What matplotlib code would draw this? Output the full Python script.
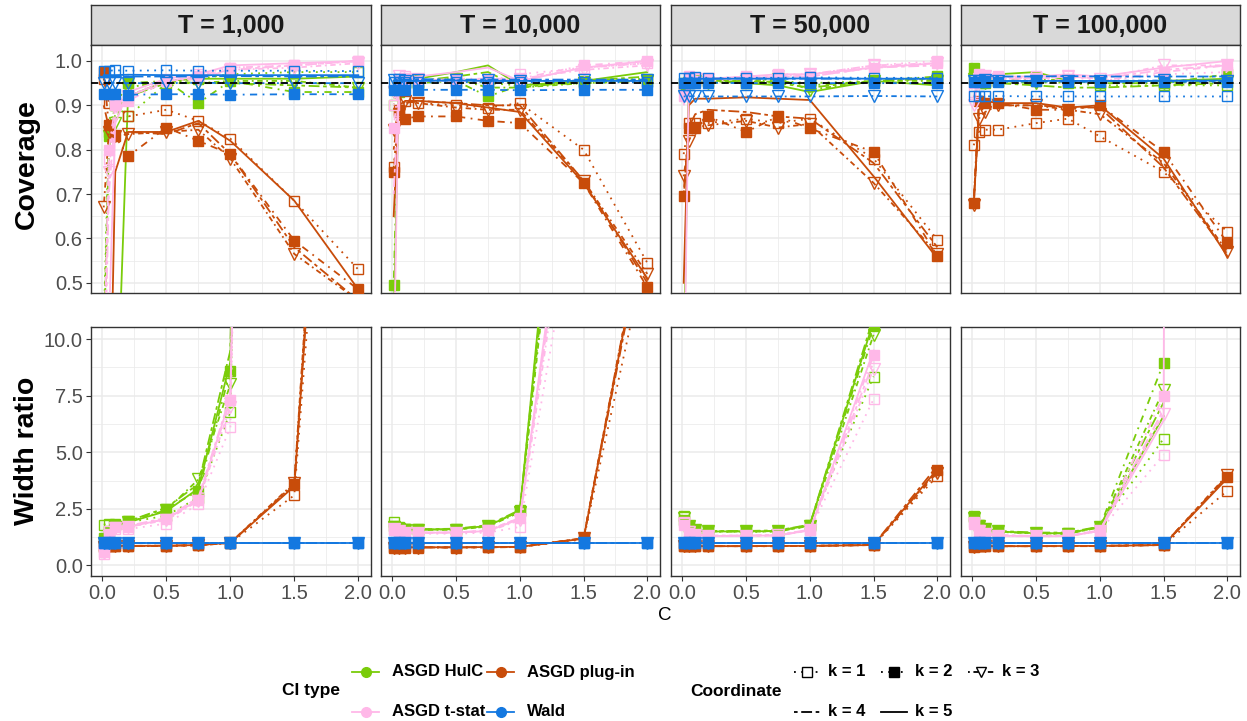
import numpy as np
import matplotlib
matplotlib.use('Agg')
import matplotlib.pyplot as plt

# ── Data ──────────────────────────────────────────────────────────────────────
C_VALUES = [0.01, 0.05, 0.1, 0.2, 0.5, 0.75, 1.0, 1.5, 2.0]
T_LABELS = ['T = 1,000', 'T = 10,000', 'T = 50,000', 'T = 100,000']
CI_TYPES = ['ASGD HulC', 'ASGD plug-in', 'ASGD t-stat', 'Wald']
COORDS   = ['k = 1', 'k = 2', 'k = 3', 'k = 4', 'k = 5']
nan = np.nan

# coverage, rows = k 1..5, cols = C_VALUES
cov_hulc_1k = [[0.40, 0.84, 0.90, 0.875, 0.95, 0.96, 0.97, 0.975, 0.975],
               [0.30, 0.83, 0.90, 0.95, 0.955, 0.905, 0.955, 0.93, 0.93],
               [0.35, 0.83, 0.86, 0.94, 0.955, 0.95, 0.955, 0.955, 0.94],
               [0.35, 0.80, 0.88, 0.92, 0.95, 0.95, 0.95, 0.945, 0.94],
               [0.05, 0.05, 0.10, 0.92, 0.955, 0.96, 0.96, 0.96, 0.965]]
cov_plug_1k = [[0.96, 0.905, 0.905, 0.875, 0.89, 0.865, 0.825, 0.685, 0.53],
               [0.975, 0.855, 0.83, 0.785, 0.85, 0.82, 0.79, 0.595, 0.485],
               [0.67, 0.84, 0.83, 0.835, 0.84, 0.845, 0.78, 0.565, 0.46],
               [0.90, 0.85, 0.83, 0.84, 0.835, 0.86, 0.79, 0.58, 0.46],
               [0.05, 0.05, 0.75, 0.84, 0.84, 0.865, 0.82, 0.685, 0.485]]
cov_tstat_1k = [[0.30, 0.78, 0.91, 0.92, 0.96, 0.97, 0.985, 0.99, 1.0],
                [0.30, 0.80, 0.90, 0.91, 0.955, 0.965, 0.985, 0.99, 1.0],
                [0.25, 0.75, 0.90, 0.92, 0.955, 0.96, 0.98, 0.985, 0.995],
                [0.20, 0.70, 0.88, 0.92, 0.955, 0.965, 0.98, 0.99, 1.0],
                [0.10, 0.40, 0.86, 0.93, 0.96, 0.97, 0.99, 0.995, 1.0]]
cov_wald_1k = [[0.978, 0.978, 0.979, 0.978, 0.979, 0.978, 0.978, 0.978, 0.977],
               [0.925, 0.925, 0.925, 0.924, 0.925, 0.925, 0.924, 0.925, 0.925],
               [0.950, 0.950, 0.951, 0.950, 0.950, 0.951, 0.950, 0.950, 0.950],
               [0.965, 0.965, 0.964, 0.965, 0.965, 0.965, 0.966, 0.965, 0.965],
               [0.968, 0.968, 0.968, 0.969, 0.968, 0.968, 0.968, 0.968, 0.968]]

cov_hulc_10k = [[0.90, 0.94, 0.95, 0.95, 0.96, 0.95, 0.945, 0.955, 0.96],
                [0.495, 0.93, 0.95, 0.95, 0.955, 0.92, 0.945, 0.95, 0.955],
                [0.93, 0.94, 0.955, 0.955, 0.96, 0.94, 0.94, 0.95, 0.955],
                [0.92, 0.935, 0.95, 0.955, 0.965, 0.975, 0.94, 0.955, 0.965],
                [0.40, 0.94, 0.955, 0.96, 0.975, 0.99, 0.945, 0.955, 0.975]]
cov_plug_10k = [[0.76, 0.885, 0.91, 0.905, 0.90, 0.895, 0.905, 0.80, 0.545],
                [0.75, 0.89, 0.87, 0.875, 0.875, 0.865, 0.86, 0.725, 0.49],
                [0.845, 0.88, 0.91, 0.905, 0.895, 0.89, 0.89, 0.73, 0.52],
                [0.80, 0.89, 0.905, 0.91, 0.905, 0.90, 0.90, 0.73, 0.50],
                [0.65, 0.90, 0.91, 0.91, 0.905, 0.895, 0.885, 0.725, 0.51]]
cov_tstat_10k = [[0.90, 0.96, 0.965, 0.96, 0.955, 0.955, 0.97, 0.985, 0.995],
                 [0.85, 0.955, 0.96, 0.955, 0.96, 0.96, 0.96, 0.99, 1.0],
                 [0.93, 0.965, 0.96, 0.96, 0.955, 0.955, 0.96, 0.98, 0.99],
                 [0.70, 0.95, 0.955, 0.955, 0.955, 0.96, 0.955, 0.985, 0.995],
                 [0.30, 0.95, 0.96, 0.965, 0.975, 0.985, 0.955, 0.985, 1.0]]
cov_wald_10k = [[0.952, 0.952, 0.953, 0.952, 0.952, 0.953, 0.952, 0.952, 0.952],
                [0.935, 0.935, 0.934, 0.935, 0.935, 0.935, 0.934, 0.935, 0.935],
                [0.956, 0.956, 0.955, 0.956, 0.956, 0.956, 0.955, 0.956, 0.956],
                [0.958, 0.958, 0.958, 0.959, 0.958, 0.958, 0.958, 0.958, 0.958],
                [0.955, 0.955, 0.955, 0.955, 0.956, 0.955, 0.955, 0.955, 0.955]]

cov_hulc_50k = [[0.95, 0.95, 0.955, 0.955, 0.955, 0.955, 0.95, 0.955, 0.96],
                [0.94, 0.955, 0.96, 0.955, 0.95, 0.955, 0.945, 0.955, 0.965],
                [0.93, 0.95, 0.955, 0.95, 0.955, 0.96, 0.935, 0.955, 0.955],
                [0.94, 0.95, 0.955, 0.955, 0.955, 0.95, 0.94, 0.955, 0.96],
                [0.30, 0.96, 0.965, 0.96, 0.95, 0.945, 0.93, 0.955, 0.945]]
cov_plug_50k = [[0.79, 0.86, 0.86, 0.86, 0.87, 0.86, 0.87, 0.78, 0.597],
                [0.696, 0.848, 0.85, 0.875, 0.84, 0.875, 0.848, 0.795, 0.56],
                [0.74, 0.82, 0.85, 0.855, 0.865, 0.85, 0.858, 0.725, 0.565],
                [0.70, 0.85, 0.88, 0.89, 0.885, 0.875, 0.87, 0.77, 0.58],
                [0.50, 0.90, 0.915, 0.915, 0.918, 0.915, 0.912, 0.74, 0.555]]
cov_tstat_50k = [[0.94, 0.96, 0.96, 0.955, 0.96, 0.97, 0.97, 0.99, 1.0],
                 [0.92, 0.965, 0.955, 0.96, 0.965, 0.965, 0.965, 0.985, 0.995],
                 [0.93, 0.96, 0.96, 0.96, 0.96, 0.965, 0.97, 0.99, 0.995],
                 [0.90, 0.955, 0.96, 0.96, 0.96, 0.965, 0.965, 0.985, 0.99],
                 [0.20, 0.96, 0.965, 0.96, 0.965, 0.97, 0.97, 0.985, 0.995]]
cov_wald_50k = [[0.962, 0.962, 0.963, 0.962, 0.962, 0.962, 0.963, 0.962, 0.962],
                [0.950, 0.950, 0.950, 0.951, 0.950, 0.950, 0.950, 0.950, 0.950],
                [0.920, 0.920, 0.921, 0.920, 0.920, 0.920, 0.920, 0.921, 0.920],
                [0.960, 0.960, 0.960, 0.960, 0.961, 0.960, 0.960, 0.960, 0.960],
                [0.960, 0.960, 0.960, 0.960, 0.960, 0.960, 0.961, 0.960, 0.960]]

cov_hulc_100k = [[0.96, 0.95, 0.95, 0.955, 0.955, 0.95, 0.945, 0.945, 0.945],
                 [0.985, 0.955, 0.955, 0.955, 0.96, 0.955, 0.95, 0.95, 0.97],
                 [0.96, 0.955, 0.95, 0.955, 0.95, 0.955, 0.95, 0.95, 0.955],
                 [0.95, 0.94, 0.945, 0.95, 0.945, 0.94, 0.94, 0.945, 0.95],
                 [0.95, 0.965, 0.96, 0.97, 0.975, 0.955, 0.955, 0.955, 0.96]]
cov_plug_100k = [[0.81, 0.84, 0.845, 0.845, 0.86, 0.87, 0.83, 0.75, 0.615],
                 [0.68, 0.91, 0.905, 0.905, 0.89, 0.89, 0.90, 0.795, 0.59],
                 [0.675, 0.87, 0.885, 0.90, 0.90, 0.89, 0.88, 0.77, 0.57],
                 [0.68, 0.88, 0.90, 0.90, 0.90, 0.895, 0.895, 0.76, 0.565],
                 [0.67, 0.89, 0.91, 0.905, 0.905, 0.895, 0.90, 0.78, 0.56]]
cov_tstat_100k = [[0.93, 0.955, 0.96, 0.96, 0.965, 0.965, 0.955, 0.97, 0.975],
                  [0.95, 0.97, 0.965, 0.965, 0.96, 0.955, 0.955, 0.975, 0.99],
                  [0.90, 0.96, 0.965, 0.96, 0.96, 0.965, 0.96, 0.99, 0.99],
                  [0.92, 0.96, 0.965, 0.96, 0.96, 0.965, 0.96, 0.98, 0.99],
                  [0.90, 0.965, 0.97, 0.965, 0.965, 0.97, 0.965, 0.985, 1.0]]
cov_wald_100k = [[0.920, 0.920, 0.920, 0.921, 0.920, 0.920, 0.920, 0.920, 0.920],
                 [0.953, 0.953, 0.953, 0.953, 0.954, 0.953, 0.953, 0.953, 0.953],
                 [0.955, 0.955, 0.956, 0.955, 0.955, 0.955, 0.955, 0.956, 0.955],
                 [0.965, 0.965, 0.965, 0.965, 0.965, 0.966, 0.965, 0.965, 0.965],
                 [0.955, 0.955, 0.955, 0.955, 0.955, 0.955, 0.955, 0.955, 0.956]]

# width ratio, rows = k 1..5, cols = C_VALUES
wid_hulc_1k = [[1.80, 1.85, 1.80, 1.90, 2.20, 3.00, 6.80, 150, 400],
               [1.20, 1.50, 1.85, 1.95, 2.50, 3.30, 8.60, 160, 420],
               [1.00, 1.30, 1.70, 1.90, 2.45, 3.80, 8.00, 150, 400],
               [0.90, 1.60, 1.85, 1.95, 2.55, 3.60, 9.50, 170, 450],
               [0.80, 1.40, 1.80, 1.90, 2.40, 3.40, 9.00, 160, 430]]
wid_plug_1k = [[0.85, 0.85, 0.86, 0.86, 0.87, 0.90, 1.00, 3.10, 40],
               [0.82, 0.84, 0.85, 0.85, 0.86, 0.88, 1.00, 3.60, 46],
               [0.83, 0.84, 0.85, 0.85, 0.86, 0.89, 1.00, 3.65, 47],
               [0.83, 0.85, 0.85, 0.86, 0.87, 0.89, 1.00, 3.55, 45],
               [0.84, 0.85, 0.86, 0.86, 0.87, 0.90, 1.00, 3.50, 44]]
wid_tstat_1k = [[0.50, 1.50, 1.60, 1.60, 1.85, 2.70, 6.10, 140, 380],
                [0.60, 1.40, 1.70, 1.70, 2.05, 2.90, 7.30, 150, 400],
                [0.55, 1.30, 1.65, 1.70, 2.00, 2.85, 7.00, 145, 390],
                [0.60, 1.50, 1.70, 1.75, 2.10, 3.00, 7.50, 150, 400],
                [0.50, 1.40, 1.65, 1.70, 2.05, 2.90, 7.40, 150, 400]]
wid_wald_1k = [[1.0, 1.0, 1.0, 1.0, 1.0, 1.0, 1.0, 1.0, 1.0],
               [1.0, 1.0, 1.0, 1.0, 1.0, 1.0, 1.0, 1.0, 1.0],
               [1.0, 1.0, 1.0, 1.0, 1.0, 1.0, 1.0, 1.0, 1.0],
               [1.0, 1.0, 1.0, 1.0, 1.0, 1.0, 1.0, 1.0, 1.0],
               [1.0, 1.0, 1.0, 1.0, 1.0, 1.0, 1.0, 1.0, 1.0]]

wid_hulc_10k = [[1.90, 1.70, 1.62, 1.60, 1.58, 1.72, 2.45, 28, 90],
                [1.75, 1.65, 1.60, 1.58, 1.60, 1.75, 2.40, 29, 95],
                [1.70, 1.62, 1.58, 1.56, 1.58, 1.72, 2.35, 28, 90],
                [1.80, 1.68, 1.62, 1.60, 1.62, 1.78, 2.45, 30, 95],
                [1.72, 1.65, 1.60, 1.58, 1.60, 1.75, 2.40, 31, 100]]
wid_plug_10k = [[0.80, 0.80, 0.80, 0.80, 0.80, 0.81, 0.82, 1.15, 14],
                [0.78, 0.78, 0.79, 0.79, 0.79, 0.80, 0.81, 1.20, 16],
                [0.78, 0.78, 0.79, 0.79, 0.79, 0.80, 0.81, 1.20, 16],
                [0.79, 0.79, 0.79, 0.80, 0.80, 0.80, 0.82, 1.20, 15.5],
                [0.79, 0.79, 0.80, 0.80, 0.80, 0.81, 0.82, 1.18, 15.8]]
wid_tstat_10k = [[1.55, 1.45, 1.40, 1.40, 1.40, 1.45, 1.70, 18, 60],
                 [1.60, 1.50, 1.45, 1.45, 1.45, 1.55, 2.10, 22, 70],
                 [1.60, 1.50, 1.45, 1.42, 1.45, 1.50, 2.00, 21, 68],
                 [1.62, 1.52, 1.47, 1.45, 1.46, 1.55, 2.10, 22, 70],
                 [1.60, 1.50, 1.45, 1.44, 1.45, 1.52, 2.05, 23, 72]]
wid_wald_10k = [[1.0, 1.0, 1.0, 1.0, 1.0, 1.0, 1.0, 1.0, 1.0],
                [1.0, 1.0, 1.0, 1.0, 1.0, 1.0, 1.0, 1.0, 1.0],
                [1.0, 1.0, 1.0, 1.0, 1.0, 1.0, 1.0, 1.0, 1.0],
                [1.0, 1.0, 1.0, 1.0, 1.0, 1.0, 1.0, 1.0, 1.0],
                [1.0, 1.0, 1.0, 1.0, 1.0, 1.0, 1.0, 1.0, 1.0]]

wid_hulc_50k = [[2.20, 1.75, 1.55, 1.50, 1.48, 1.50, 1.75, 8.35, nan],
                [2.00, 1.70, 1.55, 1.50, 1.50, 1.52, 1.80, 10.6, nan],
                [2.10, 1.72, 1.55, 1.50, 1.50, 1.50, 1.75, 10.2, nan],
                [2.15, 1.75, 1.58, 1.52, 1.52, 1.55, 1.80, 11.0, nan],
                [2.05, 1.70, 1.55, 1.50, 1.50, 1.52, 1.78, 10.8, nan]]
wid_plug_50k = [[0.85, 0.85, 0.85, 0.85, 0.85, 0.85, 0.86, 0.90, 3.95],
                [0.84, 0.84, 0.84, 0.85, 0.85, 0.85, 0.86, 0.90, 4.20],
                [0.84, 0.84, 0.85, 0.85, 0.85, 0.85, 0.86, 0.90, 4.10],
                [0.85, 0.85, 0.85, 0.85, 0.85, 0.86, 0.86, 0.91, 4.40],
                [0.85, 0.85, 0.85, 0.85, 0.85, 0.86, 0.86, 0.90, 4.25]]
wid_tstat_50k = [[1.90, 1.50, 1.35, 1.30, 1.30, 1.32, 1.55, 7.35, nan],
                 [1.80, 1.45, 1.35, 1.30, 1.30, 1.32, 1.55, 9.30, nan],
                 [1.85, 1.48, 1.35, 1.30, 1.32, 1.33, 1.55, 8.70, nan],
                 [1.85, 1.50, 1.38, 1.32, 1.32, 1.35, 1.58, 9.00, nan],
                 [1.80, 1.45, 1.35, 1.30, 1.30, 1.33, 1.55, 9.50, nan]]
wid_wald_50k = [[1.0, 1.0, 1.0, 1.0, 1.0, 1.0, 1.0, 1.0, 1.0],
                [1.0, 1.0, 1.0, 1.0, 1.0, 1.0, 1.0, 1.0, 1.0],
                [1.0, 1.0, 1.0, 1.0, 1.0, 1.0, 1.0, 1.0, 1.0],
                [1.0, 1.0, 1.0, 1.0, 1.0, 1.0, 1.0, 1.0, 1.0],
                [1.0, 1.0, 1.0, 1.0, 1.0, 1.0, 1.0, 1.0, 1.0]]

wid_hulc_100k = [[2.20, 1.80, 1.60, 1.50, 1.40, 1.40, 1.70, 5.60, nan],
                 [2.15, 1.75, 1.58, 1.48, 1.42, 1.42, 1.70, 8.95, nan],
                 [2.10, 1.75, 1.60, 1.50, 1.42, 1.40, 1.68, 7.75, nan],
                 [2.20, 1.80, 1.62, 1.52, 1.45, 1.45, 1.72, 7.20, nan],
                 [2.15, 1.78, 1.60, 1.50, 1.42, 1.42, 1.70, 6.60, nan]]
wid_plug_100k = [[0.84, 0.84, 0.84, 0.85, 0.85, 0.85, 0.86, 0.90, 3.30],
                 [0.83, 0.84, 0.84, 0.84, 0.85, 0.85, 0.85, 0.90, 3.90],
                 [0.83, 0.84, 0.84, 0.85, 0.85, 0.85, 0.86, 0.90, 4.00],
                 [0.84, 0.84, 0.85, 0.85, 0.85, 0.85, 0.86, 0.91, 3.95],
                 [0.84, 0.84, 0.85, 0.85, 0.85, 0.86, 0.86, 0.90, 3.85]]
wid_tstat_100k = [[1.90, 1.55, 1.40, 1.32, 1.28, 1.30, 1.52, 4.90, nan],
                  [1.85, 1.50, 1.38, 1.30, 1.28, 1.30, 1.50, 7.50, nan],
                  [1.85, 1.52, 1.40, 1.32, 1.30, 1.30, 1.52, 6.70, nan],
                  [1.90, 1.55, 1.42, 1.34, 1.30, 1.32, 1.55, 6.90, nan],
                  [1.85, 1.52, 1.40, 1.32, 1.28, 1.30, 1.52, 6.40, 900]]
wid_wald_100k = [[1.0, 1.0, 1.0, 1.0, 1.0, 1.0, 1.0, 1.0, 1.0],
                 [1.0, 1.0, 1.0, 1.0, 1.0, 1.0, 1.0, 1.0, 1.0],
                 [1.0, 1.0, 1.0, 1.0, 1.0, 1.0, 1.0, 1.0, 1.0],
                 [1.0, 1.0, 1.0, 1.0, 1.0, 1.0, 1.0, 1.0, 1.0],
                 [1.0, 1.0, 1.0, 1.0, 1.0, 1.0, 1.0, 1.0, 1.0]]

COVERAGE = [[cov_hulc_1k, cov_plug_1k, cov_tstat_1k, cov_wald_1k],
            [cov_hulc_10k, cov_plug_10k, cov_tstat_10k, cov_wald_10k],
            [cov_hulc_50k, cov_plug_50k, cov_tstat_50k, cov_wald_50k],
            [cov_hulc_100k, cov_plug_100k, cov_tstat_100k, cov_wald_100k]]
WIDTH = [[wid_hulc_1k, wid_plug_1k, wid_tstat_1k, wid_wald_1k],
         [wid_hulc_10k, wid_plug_10k, wid_tstat_10k, wid_wald_10k],
         [wid_hulc_50k, wid_plug_50k, wid_tstat_50k, wid_wald_50k],
         [wid_hulc_100k, wid_plug_100k, wid_tstat_100k, wid_wald_100k]]

# ── Style ─────────────────────────────────────────────────────────────────────
W, H = 1247, 721
COLORS   = ['#7ACC0A', '#C84C0A', '#FFB8E8', '#1478E0']
LINESTY  = [(0, (1, 3)), (0, (1, 3, 4, 3)), (0, (1, 2, 3, 2)), (0, (2, 2, 6, 2)), '-']
MARKERS  = ['s', 's', 'v', None, None]
FILLED   = [False, True, False, False, False]
GRID_C   = '#EBEBEB'
FRAME_C  = '#333333'
TICK_C   = '#4D4D4D'

plt.rcParams['font.family'] = ['Liberation Sans', 'DejaVu Sans']

fig = plt.figure(figsize=(W / 100, H / 100), dpi=100)


def px_axes(x0, y0, x1, y1):
    return fig.add_axes([x0 / W, 1 - y1 / H, (x1 - x0) / W, (y1 - y0) / H])


def style_panel(ax, ylim, yticks, yminor, show_y, show_x):
    ax.set_xlim(-0.0895, 2.0995)
    ax.set_ylim(*ylim)
    ax.set_xticks([0.0, 0.5, 1.0, 1.5, 2.0])
    ax.set_xticks([0.25, 0.75, 1.25, 1.75], minor=True)
    ax.set_yticks(yticks)
    ax.set_yticks(yminor, minor=True)
    ax.grid(True, which='major', color=GRID_C, lw=1.1, zorder=0)
    ax.grid(True, which='minor', color=GRID_C, lw=0.55, zorder=0)
    ax.set_axisbelow(True)
    ax.tick_params(which='minor', length=0)
    ax.tick_params(which='major', length=3.5, width=0.8, color=FRAME_C,
                   labelsize=14.5, labelcolor=TICK_C, pad=2.5)
    if not show_y:
        ax.tick_params(axis='y', which='major', length=0, labelleft=False)
    if not show_x:
        ax.tick_params(axis='x', which='major', length=0, labelbottom=False)
    for sp in ax.spines.values():
        sp.set_color(FRAME_C)
        sp.set_linewidth(1.0)


def draw_series(ax, data_by_type):
    for ci, rows in enumerate(data_by_type):
        for k, vals in enumerate(rows):
            col = COLORS[ci]
            ax.plot(C_VALUES, vals, color=col, ls=LINESTY[k], lw=1.3,
                    marker=MARKERS[k], ms=7.8 if MARKERS[k] == 's' else 8.8,
                    mfc=col if FILLED[k] else 'none', mec=col, mew=1.0, zorder=3)


panel_x = [(91, 371), (381, 660), (671, 950), (961, 1240)]

for i, (x0, x1) in enumerate(panel_x):
    # strip
    sax = px_axes(x0, 5, x1, 45)
    sax.set_facecolor('#D9D9D9')
    sax.set_xticks([]); sax.set_yticks([])
    for sp in sax.spines.values():
        sp.set_color(FRAME_C); sp.set_linewidth(1.0)
    sax.text(0.5, 0.47, T_LABELS[i], ha='center', va='center', fontsize=18,
             fontweight='bold', color='#1A1A1A', transform=sax.transAxes)

    # coverage
    ax = px_axes(x0, 45, x1, 293)
    style_panel(ax, (0.477, 1.036), [0.5, 0.6, 0.7, 0.8, 0.9, 1.0],
                [0.55, 0.65, 0.75, 0.85, 0.95], i == 0, False)
    ax.yaxis.set_major_formatter(matplotlib.ticker.FormatStrFormatter('%.1f'))
    draw_series(ax, COVERAGE[i])
    ax.axhline(0.95, color='black', lw=1.3, ls=(0, (4, 3)), zorder=4)

    # width ratio
    ax2 = px_axes(x0, 327, x1, 576)
    style_panel(ax2, (-0.47, 10.54), [0.0, 2.5, 5.0, 7.5, 10.0],
                [1.25, 3.75, 6.25, 8.75], i == 0, True)
    ax2.yaxis.set_major_formatter(matplotlib.ticker.FormatStrFormatter('%.1f'))
    ax2.xaxis.set_major_formatter(matplotlib.ticker.FormatStrFormatter('%.1f'))
    draw_series(ax2, WIDTH[i])

fig.text(27 / W, 1 - 164 / H, 'Coverage', rotation=90, ha='center', va='center',
         fontsize=20.5, fontweight='bold')
fig.text(27 / W, 1 - 451 / H, 'Width ratio', rotation=90, ha='center', va='center',
         fontsize=20.5, fontweight='bold')
fig.text(665 / W, 1 - 615 / H, 'C', ha='center', va='center', fontsize=13.5)

# ── Legend (drawn by hand in pixel space) ─────────────────────────────────────
lg = fig.add_axes([0, 0, 1, 1])
lg.set_xlim(0, W); lg.set_ylim(H, 0); lg.axis('off')

lg.text(282, 691, 'CI type', ha='left', va='center', fontsize=12.5, fontweight='bold')
ci_pos = [(352, 672), (487, 672), (352, 712), (487, 712)]
for ci, (kx, ky) in enumerate(ci_pos):
    lg.plot([kx, kx + 27], [ky, ky], color=COLORS[ci], lw=1.3)
    lg.plot([kx + 13.5], [ky], 'o', color=COLORS[ci], ms=7)
    lg.text(kx + 40, ky, CI_TYPES[ci], ha='left', va='center', fontsize=12,
            fontweight='bold')

lg.text(690, 691, 'Coordinate', ha='left', va='center', fontsize=12.5, fontweight='bold')
k_pos = [(794, 672), (881, 672), (968, 672), (794, 712), (881, 712)]
for k, (kx, ky) in enumerate(k_pos):
    lg.plot([kx, kx + 26], [ky, ky], color='black', lw=1.3, ls=LINESTY[k])
    if MARKERS[k]:
        lg.plot([kx + 13], [ky], marker=MARKERS[k], color='black',
                ms=6.5 if MARKERS[k] == 's' else 7.5,
                mfc='black' if FILLED[k] else 'white', mec='black', mew=1.0)
    lg.text(kx + 34, ky, COORDS[k], ha='left', va='center', fontsize=12,
            fontweight='bold')

fig.savefig('out.png', dpi=100, facecolor='white')
